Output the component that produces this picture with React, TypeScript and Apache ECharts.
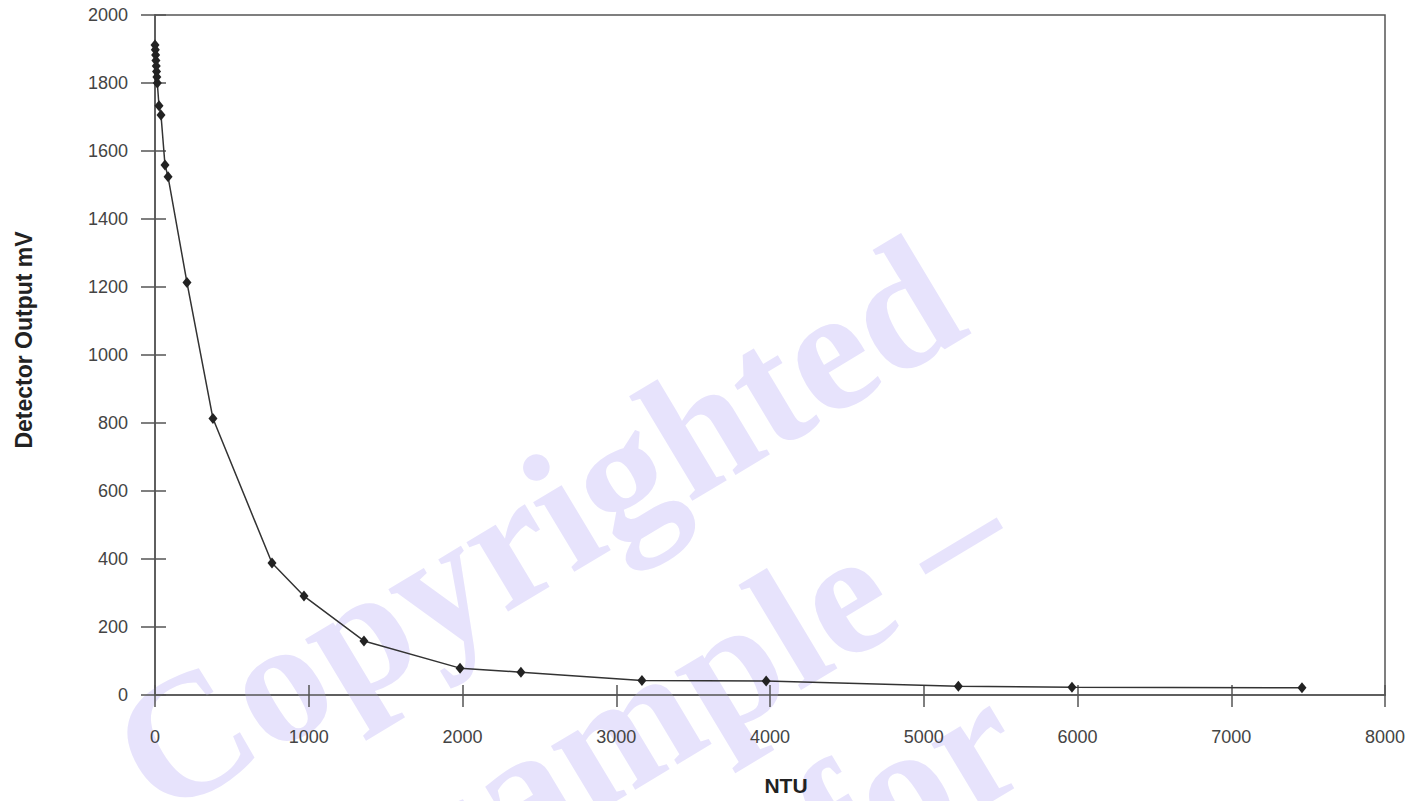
import React, { useEffect, useRef } from "react";
import * as echarts from "echarts";

const ntu: number[] = [0, 2, 4, 6, 8, 10, 12, 15, 26, 39, 65, 85, 208, 377, 761, 969, 1359, 1984, 2380, 3167, 3975, 5225, 5964, 7460];
const mv: number[] = [1912, 1898, 1882, 1866, 1850, 1834, 1818, 1800, 1733, 1706, 1559, 1524, 1213, 813, 388, 291, 159, 79, 67, 43, 41, 26, 23, 21];

const xTitle = "NTU";
const yTitle = "Detector Output mV";
const watermark: string[] = ["Copyrighted", "sample –", "for"];

const labelFont = "'Liberation Sans Narrow', 'Arial Narrow', 'Liberation Sans', Arial, sans-serif";
const titleFont = "'Liberation Sans', Arial, sans-serif";

export default function App() {
  const ref = useRef<HTMLDivElement>(null);
  useEffect(() => {
    if (!ref.current) return;
    const chart = echarts.init(ref.current, undefined, { renderer: "svg" });
    const data = ntu.map((x, i) => [x, mv[i]]);
    const axisLineStyle = { color: "#555", width: 1.5 };
    const labelStyle = { color: "#444", fontSize: 18, fontFamily: labelFont, formatter: (v: number) => String(v) };
    const wmStyle = { fill: "#e7e3fc", fontSize: 176, fontFamily: "'Liberation Serif', 'Times New Roman', serif", fontWeight: "bold" as const };
    const wmPos = [
      [0, 0],
      [212, 218],
      [549, 412],
    ];
    chart.setOption({
      animation: false,
      backgroundColor: "#ffffff",
      graphic: [
        {
          type: "group",
          x: 175,
          y: 845,
          rotation: (31 * Math.PI) / 180,
          z: 0,
          silent: true,
          children: watermark.map((t, i) => ({
            type: "text",
            x: wmPos[i][0],
            y: wmPos[i][1],
            style: { ...wmStyle, text: t, textAlign: "left", textVerticalAlign: "bottom" },
          })),
        },
      ],
      grid: {
        left: 155,
        right: 41,
        top: 15,
        bottom: 105,
        show: true,
        borderColor: "#555",
        borderWidth: 1.5,
        backgroundColor: "transparent",
      },
      xAxis: [
        {
          type: "value",
          min: 0,
          max: 8000,
          interval: 1000,
          name: xTitle,
          nameLocation: "middle",
          nameGap: 80,
          nameTextStyle: { color: "#222", fontSize: 21, fontWeight: "bold", fontFamily: titleFont, padding: [0, 0, 0, 32] },
          axisLine: { show: true, lineStyle: axisLineStyle },
          axisTick: { show: true, length: 12, lineStyle: axisLineStyle },
          axisLabel: { ...labelStyle, margin: 33 },
          splitLine: { show: false },
        },
        {
          type: "value",
          min: 0,
          max: 8000,
          interval: 1000,
          position: "bottom",
          axisLine: { show: false },
          axisTick: { show: true, inside: true, length: 10, lineStyle: axisLineStyle },
          axisLabel: { show: false },
          splitLine: { show: false },
        },
      ],
      yAxis: [
        {
          type: "value",
          min: 0,
          max: 2000,
          interval: 200,
          name: yTitle,
          nameLocation: "middle",
          nameGap: 120,
          nameTextStyle: { color: "#222", fontSize: 23, fontWeight: "bold", fontFamily: titleFont, padding: [0, 0, 0, 30] },
          axisLine: { show: true, lineStyle: axisLineStyle },
          axisTick: { show: true, length: 14, lineStyle: axisLineStyle },
          axisLabel: { ...labelStyle, margin: 27 },
          splitLine: { show: false },
        },
        {
          type: "value",
          min: 0,
          max: 2000,
          interval: 200,
          position: "left",
          axisLine: { show: false },
          axisTick: { show: true, inside: true, length: 11, lineStyle: axisLineStyle },
          axisLabel: { show: false },
          splitLine: { show: false },
        },
      ],
      series: [
        {
          type: "line",
          data,
          xAxisIndex: 0,
          yAxisIndex: 0,
          symbol: "diamond",
          symbolSize: [9, 11],
          itemStyle: { color: "#222" },
          lineStyle: { color: "#333", width: 1.5 },
          z: 5,
        },
      ],
    });
    return () => chart.dispose();
  }, []);
  return <div ref={ref} style={{ position: "fixed", left: 0, top: 0, width: 1426, height: 801 }} />;
}
